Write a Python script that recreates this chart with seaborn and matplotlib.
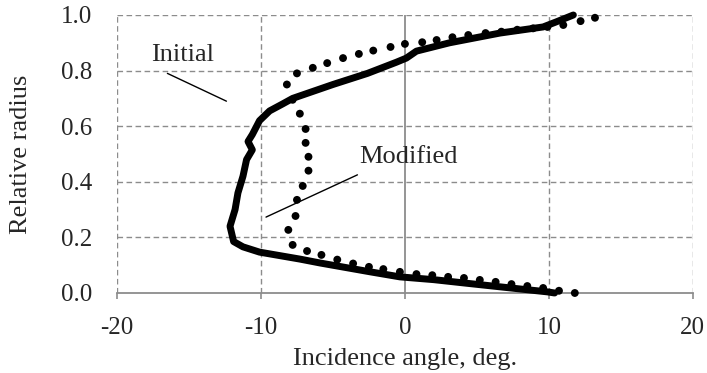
import matplotlib
matplotlib.use("Agg")
import matplotlib.pyplot as plt
import seaborn as sns
import pandas as pd

# Incidence angle (deg) vs relative radius for the two blade designs
initial_angle = [10.4, 9.9, 7.0, 4.3, 2.0, -0.35, -2.4, -5.9, -7.3, -10.1, -11.25,
                 -11.9, -12.15, -11.8, -11.6, -11.25, -11.0, -10.6, -10.9, -10.6,
                 -10.3, -10.1, -9.4, -8.5, -7.8, -5.0, -2.6, -0.6, 0.1, 0.8, 3.1,
                 6.6, 9.6, 10.5, 11.7]
initial_radius = [0.0, 0.004, 0.02, 0.035, 0.048, 0.058, 0.076, 0.108, 0.122, 0.147,
                  0.166, 0.185, 0.24, 0.30, 0.36, 0.42, 0.48, 0.515, 0.545, 0.57,
                  0.60, 0.62, 0.655, 0.68, 0.70, 0.75, 0.79, 0.83, 0.845, 0.87,
                  0.90, 0.935, 0.957, 0.975, 1.0]

modified_angle = [11.8, 10.7, 9.6, 8.5, 7.4, 6.3, 5.2, 4.1, 3.0, 1.9, 0.8, -0.35,
                  -1.5, -2.5, -3.6, -4.7, -5.8, -6.8, -7.8, -8.1, -7.6, -7.5, -7.1,
                  -6.7, -6.7, -6.9, -6.9, -7.3, -7.8, -8.2, -7.5, -6.4, -5.4, -4.3,
                  -3.2, -2.2, -1.0, 0.0, 1.2, 2.2, 3.3, 4.4, 5.6, 6.7, 7.8, 8.9,
                  9.9, 11.0, 12.2, 13.2]
modified_radius = [0.0, 0.008, 0.018, 0.025, 0.032, 0.040, 0.047, 0.054, 0.058,
                   0.064, 0.068, 0.076, 0.086, 0.094, 0.106, 0.12, 0.137, 0.151,
                   0.173, 0.227, 0.277, 0.335, 0.385, 0.44, 0.49, 0.54, 0.59,
                   0.645, 0.695, 0.75, 0.79, 0.81, 0.827, 0.845, 0.86, 0.872,
                   0.885, 0.896, 0.902, 0.91, 0.92, 0.928, 0.935, 0.94, 0.947,
                   0.952, 0.957, 0.964, 0.978, 0.99]

x_ticks = [-20, -10, 0, 10, 20]
y_ticks = [0.0, 0.2, 0.4, 0.6, 0.8, 1.0]
y_tick_labels = ["0.0", "0.2", "0.4", "0.6", "0.8", "1.0"]

df_init = pd.DataFrame({"angle": initial_angle, "radius": initial_radius})
df_mod = pd.DataFrame({"angle": modified_angle, "radius": modified_radius})

sns.set_style("white")
plt.rcParams["font.family"] = ["Liberation Serif", "DejaVu Serif"]
plt.rcParams["axes.unicode_minus"] = False

fig = plt.figure(figsize=(7.07, 3.73), dpi=100)
ax = fig.add_axes([0.1655, 0.2145, 0.8145, 0.7453])

grid_kw = dict(color="#8c8c8c", lw=1.0, ls=(0, (4, 2.5)), zorder=0)
for xv in x_ticks:
    if xv == 0:
        ax.axvline(xv, color="#8c8c8c", lw=1.3, zorder=0)
    else:
        ax.axvline(xv, **grid_kw)
for yv in y_ticks[1:]:
    ax.axhline(yv, **grid_kw)

sns.lineplot(data=df_init, x="angle", y="radius", sort=False, estimator=None,
             color="black", lw=5.0, ax=ax, clip_on=False,
             solid_capstyle="round", solid_joinstyle="round", zorder=3)
sns.scatterplot(data=df_mod, x="angle", y="radius", color="black", s=32,
                edgecolor="none", ax=ax, clip_on=False, zorder=4)

ax.set_xlim(-20, 20)
ax.set_ylim(0, 1)
ax.set_xticks(x_ticks)
ax.set_yticks(y_ticks)
ax.set_yticklabels(y_tick_labels)

for side in ["top", "right", "left"]:
    ax.spines[side].set_visible(False)
ax.spines["bottom"].set_color("#8c8c8c")
ax.spines["bottom"].set_linewidth(1.3)
ax.spines["bottom"].set_zorder(1)

ax.tick_params(axis="x", direction="out", length=4, width=1.2, color="#8c8c8c",
               pad=13, labelsize=18, bottom=True)
ax.tick_params(axis="y", length=0, pad=18, labelsize=18)

ax.set_xlabel("Incidence angle, deg.", fontsize=19, labelpad=7)
ax.set_ylabel("Relative radius", fontsize=19, labelpad=21)

# Curve labels with leader lines
ax.text(-17.6, 0.835, "Initial", fontsize=19, ha="left", va="baseline")
ax.plot([-16.5, -12.4], [0.79, 0.69], color="black", lw=1.0, zorder=2)
ax.text(-3.2, 0.468, "Modified", fontsize=19, ha="left", va="baseline")
ax.plot([-9.65, -3.3], [0.273, 0.425], color="black", lw=1.0, zorder=5)

fig.savefig("out.png", dpi=100)
